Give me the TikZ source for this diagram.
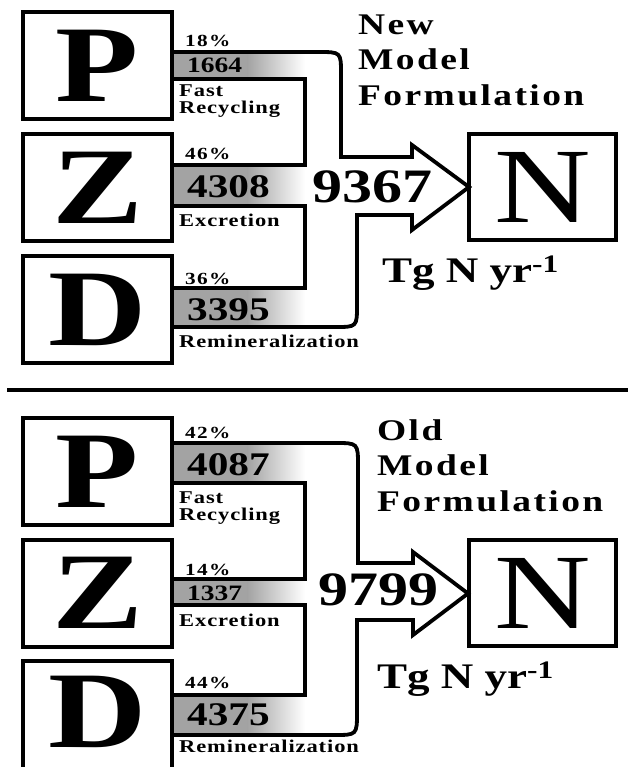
\documentclass[tikz,border=0pt]{standalone}
\usepackage{fontspec}
\setmainfont{Liberation Serif}[FakeStretch=1.25]
\definecolor{bandgray}{gray}{0.64}
\newcommand\flowband[2]{%
  \fill[bandgray] (172,#1) rectangle (248,#2);
  \shade[left color=bandgray,right color=white] (247.5,#1) rectangle (305,#2);}
\tikzset{
  box/.style={draw, line width=4pt, minimum width=149pt, minimum height=107pt, inner sep=0pt},
  bigletter/.style={font=\fontsize{109}{109}\selectfont\bfseries},
  nletter/.style={font=\fontsize{107}{107}\selectfont},
  flow/.style={draw, line width=3.8pt, line join=miter},
  pct/.style={anchor=base west, inner sep=0pt, font=\fontsize{17}{17}\selectfont\bfseries\addfontfeature{LetterSpace=8}},
  lab/.style={anchor=base west, inner sep=0pt, font=\fontsize{18}{18}\selectfont\bfseries\addfontfeature{LetterSpace=5}},
  numbig/.style={anchor=base west, inner sep=0pt, font=\fontsize{33}{33}\selectfont\bfseries},
  numsmall/.style={anchor=base west, inner sep=0pt, font=\fontsize{22}{22}\selectfont\bfseries},
  total/.style={anchor=base west, inner sep=0pt, font=\fontsize{48}{48}\selectfont\bfseries},
  title/.style={anchor=base west, inner sep=0pt, font=\fontsize{30}{30}\selectfont\bfseries\addfontfeature{LetterSpace=8}},
  unit/.style={anchor=base west, inner sep=0pt, font=\fontsize{36}{36}\selectfont\bfseries},
}
\begin{document}
\begin{tikzpicture}[x=1pt,y=-1pt]
\useasboundingbox (0,0) rectangle (628,767);
\clip (0,0) rectangle (628,767);

% ---------- top panel ----------
\flowband{52}{79}
\flowband{165}{206}
\flowband{288}{327}

\node[box, bigletter] (P1) at (97.5,65.5) {P};
\node[box, bigletter] (Z1) at (97.5,187.5) {Z};
\node[box, bigletter] (D1) at (97.5,309.5) {D};
\node[box, nletter, minimum width=147pt, minimum height=106pt] (N1) at (542.5,187) {N};

\draw[flow] (172,52) -- (318,52) .. controls (341,52) .. (341,74) -- (341,157)
  -- (412,157) -- (412,145) -- (469,187) -- (412,230) -- (412,215)
  -- (357,215) -- (357,305) .. controls (357,327) .. (335,327) -- (172,327);
\draw[flow] (172,79) -- (305,79) -- (305,165) -- (172,165);
\draw[flow] (172,206) -- (305,206) -- (305,288) -- (172,288);

\node[pct] (a1) at (185,47) {18\%};
\node[numsmall] (a2) at (187,73) {1664};
\node[lab] (a3) at (179,97) {Fast};
\node[lab] (a4) at (179,114) {Recycling};
\node[pct] (a5) at (185,160) {46\%};
\node[numbig] (a6) at (187,197) {4308};
\node[lab] (a7) at (179,226) {Excretion};
\node[pct] (a8) at (185,284) {36\%};
\node[numbig] (a9) at (187,320) {3395};
\node[lab] (a10) at (179,347) {Remineralization};
\node[total] (a11) at (312,203) {9367};
\node[title] (a12) at (358,35) {New};
\node[title] (a13) at (358,70) {Model};
\node[title] (a14) at (358,106) {Formulation};
\node[unit] (a15) at (382,282) {Tg N yr\textsuperscript{-1}};

% separator
\draw[line width=4pt] (7,390) -- (628,390);

% ---------- bottom panel ----------
\flowband{443}{483}
\flowband{579}{605}
\flowband{695}{735}

\node[box, bigletter] (P2) at (97.5,471.5) {P};
\node[box, bigletter] (Z2) at (97.5,593) {Z};
\node[box, minimum height=139pt] (D2) at (97.5,730.5) {};
\node[bigletter, inner sep=0pt] (D2l) at (97.5,712) {D};
\node[box, nletter, minimum width=147pt, minimum height=106pt] (N2) at (542.5,593) {N};

\draw[flow] (172,443) -- (335,443) .. controls (358,443) .. (358,466) -- (358,563)
  -- (413,563) -- (413,552) -- (468,593.5) -- (413,635) -- (413,620)
  -- (357,620) -- (357,712) .. controls (357,735) .. (334,735) -- (172,735);
\draw[flow] (172,483) -- (305,483) -- (305,579) -- (172,579);
\draw[flow] (172,605) -- (305,605) -- (305,695) -- (172,695);

\node[pct] (b1) at (185,438) {42\%};
\node[numbig] (b2) at (187,475) {4087};
\node[lab] (b3) at (179,503) {Fast};
\node[lab] (b4) at (179,520) {Recycling};
\node[pct] (b5) at (185,575) {14\%};
\node[numsmall] (b6) at (187,600) {1337};
\node[lab] (b7) at (179,626) {Excretion};
\node[pct] (b8) at (185,688) {44\%};
\node[numbig] (b9) at (187,725) {4375};
\node[lab] (b10) at (179,752) {Remineralization};
\node[total] (b11) at (318,605) {9799};
\node[title] (b12) at (377,440) {Old};
\node[title] (b13) at (377,475) {Model};
\node[title] (b14) at (377,511) {Formulation};
\node[unit] (b15) at (377,688) {Tg N yr\textsuperscript{-1}};
\end{tikzpicture}
\end{document}
